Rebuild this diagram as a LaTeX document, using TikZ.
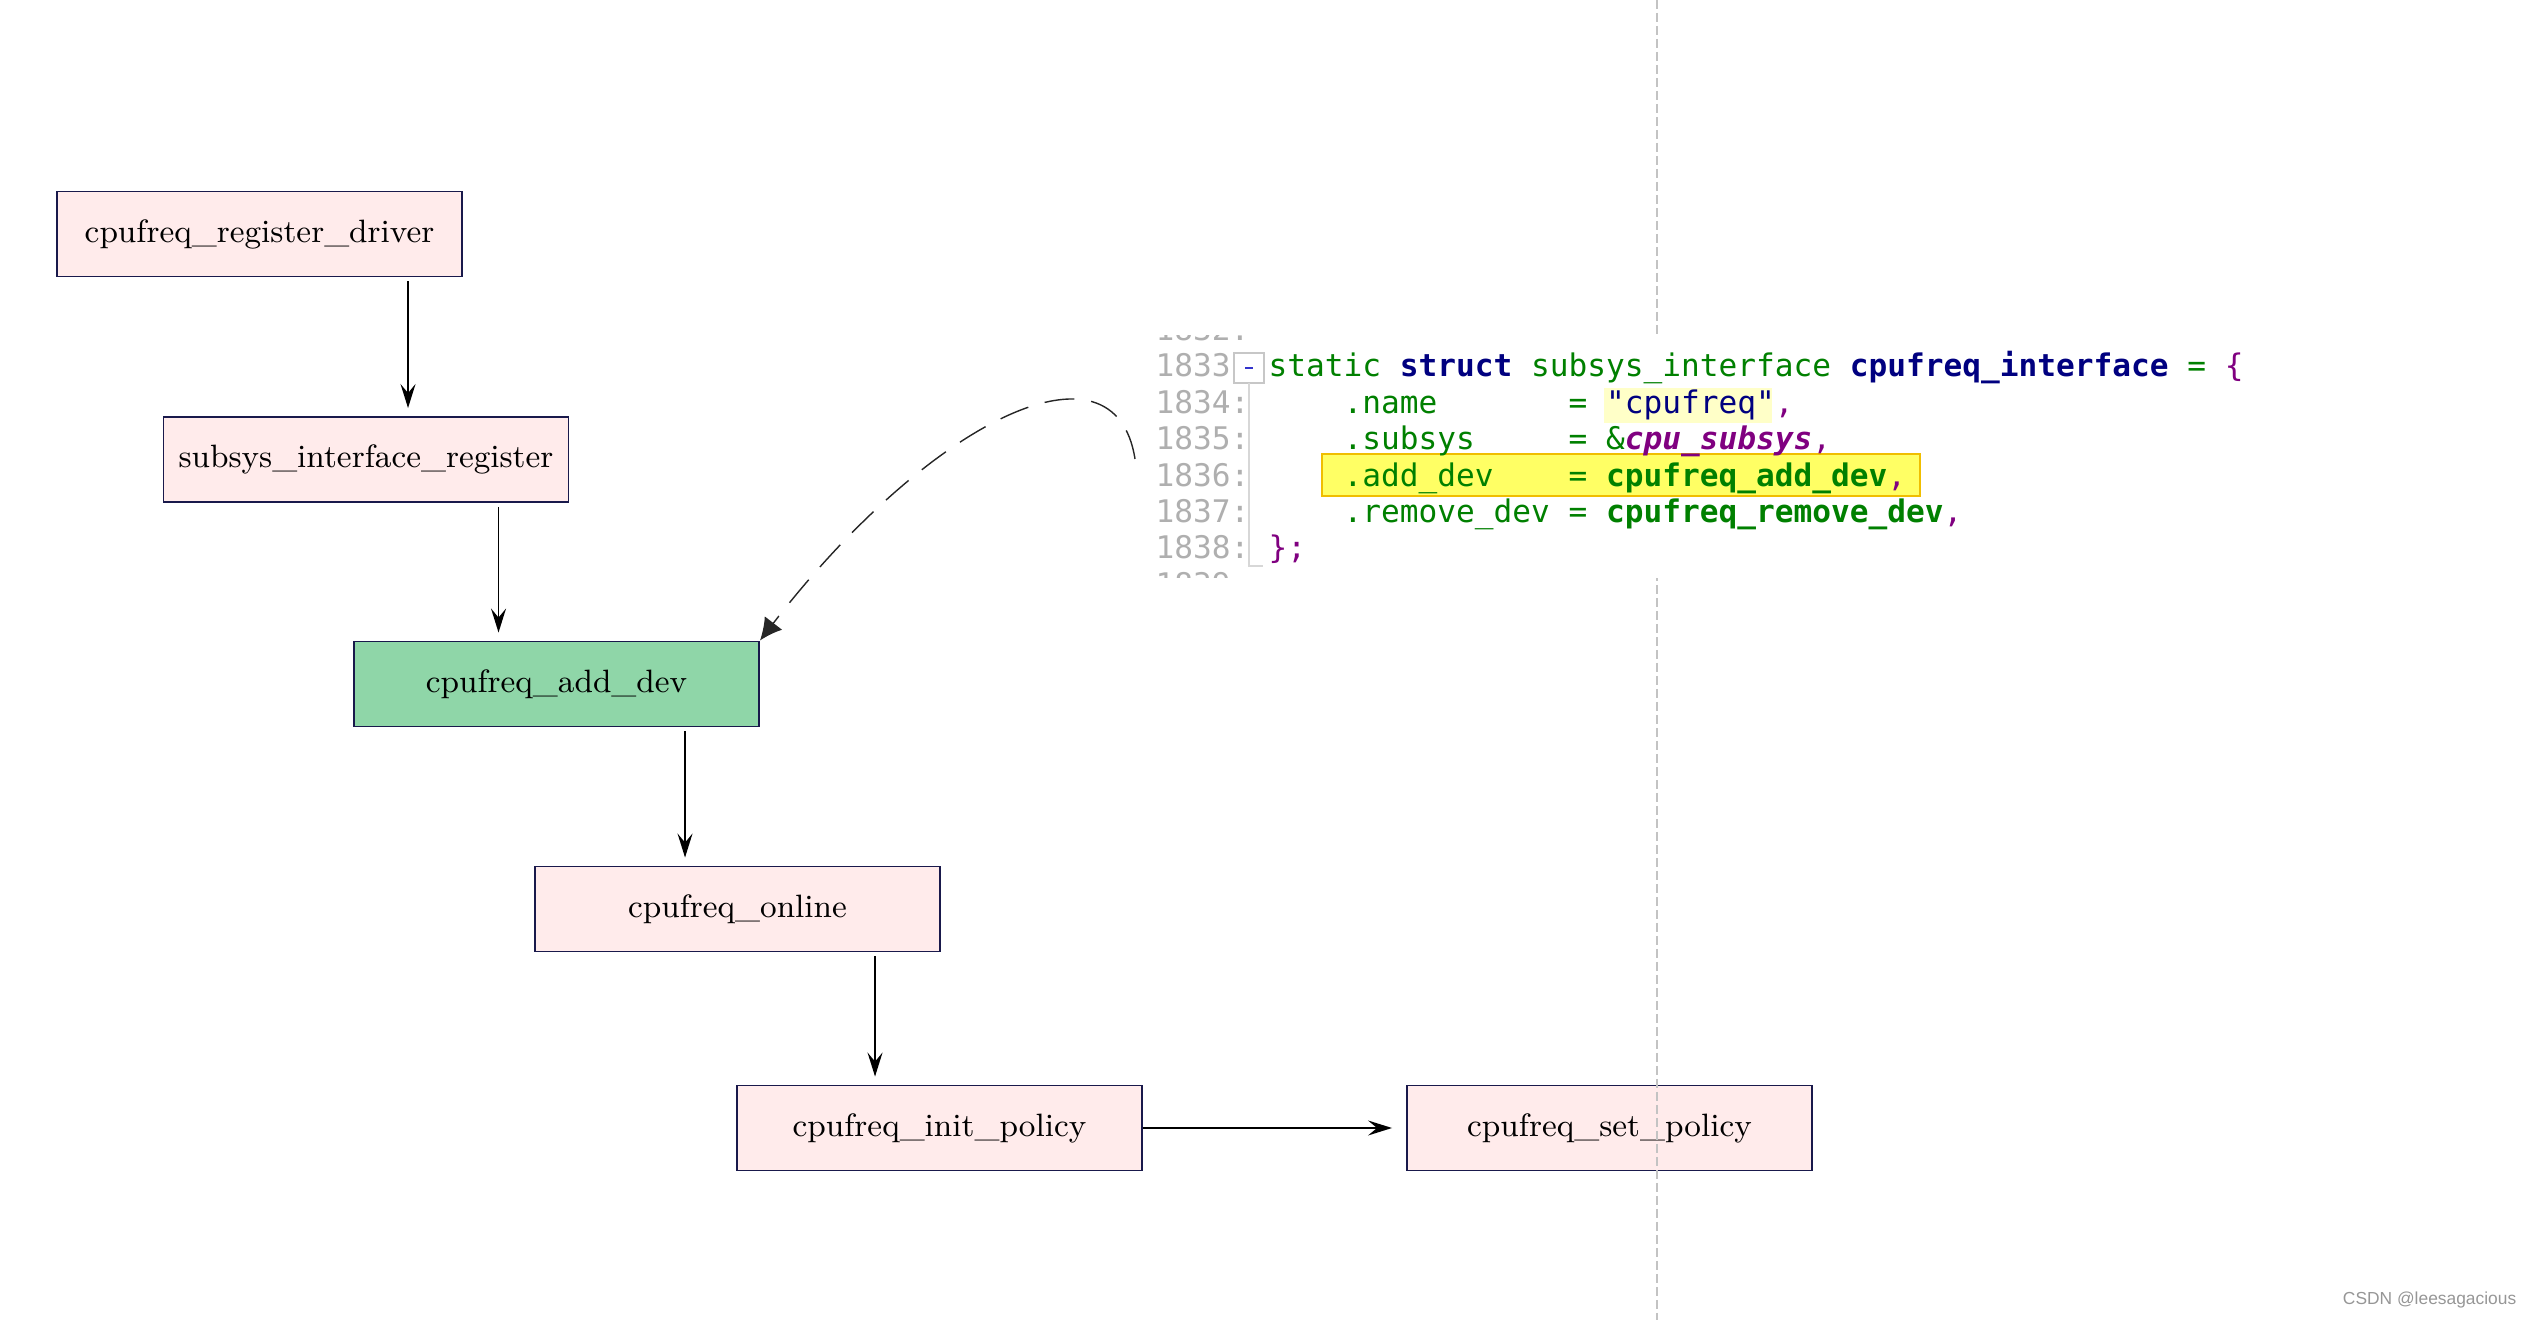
\documentclass[tikz,border=0pt]{standalone}
\usepackage{fontspec}
\newfontfamily\codefont{DejaVu Sans Mono}
\newfontfamily\wmfont{Liberation Sans}
\usetikzlibrary{arrows.meta}

\definecolor{boxpink}{RGB}{255,235,235}
\definecolor{boxgreen}{RGB}{143,214,168}
\definecolor{boxline}{RGB}{25,25,75}
\definecolor{cgreen}{RGB}{0,128,0}
\definecolor{cnavy}{RGB}{0,0,128}
\definecolor{cpurple}{RGB}{128,0,128}
\definecolor{lnumgray}{RGB}{175,175,175}
\definecolor{hlfill}{RGB}{255,255,100}
\definecolor{hlline}{RGB}{240,190,0}
\definecolor{strbg}{RGB}{255,255,200}
\definecolor{guidegray}{RGB}{195,195,195}
\definecolor{wmgray}{RGB}{150,150,150}

\begin{document}
\begin{tikzpicture}[
    fn/.style={draw=boxline, line width=0.55pt, fill=boxpink, minimum width=4.05cm,
      minimum height=0.85cm, inner sep=0pt, font=\fontsize{9.2}{11}\selectfont},
    call/.style={-{Stealth[length=2.4mm,width=1.5mm,inset=0.9mm]}, line width=0.45pt,
      shorten <=0.04cm, shorten >=0.08cm},
    code/.style={anchor=base west, inner sep=0pt, font=\codefont\fontsize{8.86}{10.3}\selectfont},
    lnum/.style={code, text=lnumgray}]
   \useasboundingbox (0,0) rectangle (25.33,-13.2);

   % call chain
   \node[fn] (drv) at (2.595,-2.34) {cpufreq\_register\_driver};
   \node[fn] (sub) at (3.66,-4.595) {subsys\_interface\_register};
   \node[fn, fill=boxgreen] (add) at (5.565,-6.84) {cpufreq\_add\_dev};
   \node[fn] (onl) at (7.375,-9.09) {cpufreq\_online};
   \node[fn] (ini) at (9.395,-11.28) {cpufreq\_init\_policy};
   \node[fn] (set) at (16.095,-11.28) {cpufreq\_set\_policy};

   \draw[call] ([xshift=3.52cm]drv.south west) -- ([xshift=3.52cm]drv.south west |- sub.north);
   \draw[call] ([xshift=3.36cm]sub.south west) -- ([xshift=3.36cm]sub.south west |- add.north);
   \draw[call] ([xshift=3.32cm]add.south west) -- ([xshift=3.32cm]add.south west |- onl.north);
   \draw[call] ([xshift=3.41cm]onl.south west) -- ([xshift=3.41cm]onl.south west |- ini.north);
   \draw[call, shorten <=0pt, shorten >=0.14cm] (ini.east) -- (set.west);

   % guide line, hidden behind the code shot
   \draw[guidegray, line width=0.4pt, dash pattern=on 0.09cm off 0.04cm] (16.57,0) -- (16.57,-13.2);

   % code shot
   \fill[white] (11.45,-3.36) rectangle (22.6,-5.78);
   \begin{scope}
      \clip (11.45,-3.36) rectangle (22.6,-5.78);
      \fill[hlfill, draw=hlline, line width=0.55pt] (13.22,-4.54) rectangle (19.20,-4.96);
      \fill[strbg] (16.04,-3.88) rectangle (17.72,-4.23);
      \draw[lnumgray!70, line width=0.5pt] (12.34,-3.53) rectangle (12.64,-3.83);
      \fill[blue!60!gray] (12.45,-3.672) rectangle (12.53,-3.692);
      \draw[lnumgray!50, line width=0.4pt] (12.49,-3.83) -- (12.49,-5.66) -- (12.63,-5.66);

      \node[lnum] (n1832) at (11.55,-3.406) {1832:};
      \node[lnum] (n1833) at (11.55,-3.77) {1833};
      \node[lnum] (n1834) at (11.55,-4.134) {1834:};
      \node[lnum] (n1835) at (11.55,-4.498) {1835:};
      \node[lnum] (n1836) at (11.55,-4.862) {1836:};
      \node[lnum] (n1837) at (11.55,-5.226) {1837:};
      \node[lnum] (n1838) at (11.55,-5.59) {1838:};
      \node[lnum] (n1839) at (11.55,-5.954) {1839:};

      \node[code] (c1833) at (12.68,-3.77) {\textcolor{cgreen}{static} \textcolor{cnavy}{\bfseries struct}
        \textcolor{cgreen}{subsys\_interface} \textcolor{cnavy}{\bfseries cpufreq\_interface}
        \textcolor{cgreen}{=} \textcolor{cpurple}{\{}};
      \node[code] (c1834) at (13.43,-4.134) {\textcolor{cgreen}{.name~~~~~~~=}~\textcolor{cnavy}{"cpufreq"}\textcolor{cpurple}{,}};
      \node[code] (c1835) at (13.43,-4.498) {\textcolor{cgreen}{.subsys~~~~~=~\&}\textcolor{cpurple}{\bfseries\itshape cpu\_subsys}\textcolor{cpurple}{,}};
      \node[code] (c1836) at (13.43,-4.862) {\textcolor{cgreen}{.add\_dev~~~~=~\textbf{cpufreq\_add\_dev}}\textcolor{cpurple}{,}};
      \node[code] (c1837) at (13.43,-5.226) {\textcolor{cgreen}{.remove\_dev~=~\textbf{cpufreq\_remove\_dev}}\textcolor{cpurple}{,}};
      \node[code] (c1838) at (12.68,-5.59) {\textcolor{cpurple}{\};}};
   \end{scope}

   % field points back to the callback
   \coordinate (src) at (11.35,-4.59);
   \draw[-{Latex[length=2.2mm,width=2.2mm]}, line width=0.4pt, black!85, dash pattern=on 0.3cm off 0.17cm]
      (src) .. controls (11.15,-3.3) and (9.3,-4.2) .. (add.north east);

   \node[anchor=east, inner sep=0pt, text=wmgray, font=\wmfont\fontsize{4.95}{6}\selectfont] (mark)
      at (25.17,-13.0) {CSDN @leesagacious};
\end{tikzpicture}
\end{document}
